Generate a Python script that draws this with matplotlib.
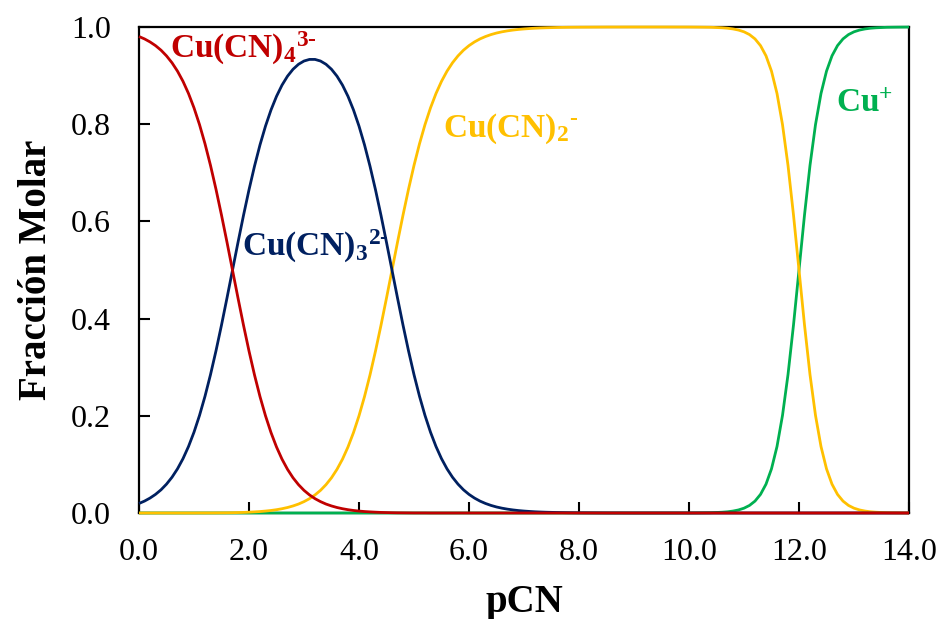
import matplotlib
matplotlib.use("Agg")
import matplotlib.pyplot as plt
from matplotlib.ticker import FormatStrFormatter

plt.rcParams["font.family"] = ["Liberation Serif", "DejaVu Serif"]
plt.rcParams["mathtext.fontset"] = "custom"
plt.rcParams["mathtext.rm"] = "Liberation Serif:bold"
plt.rcParams["mathtext.bf"] = "Liberation Serif:bold"
plt.rcParams["mathtext.it"] = "Liberation Serif:bold"

# pCN grid (denser where the curves bend)
pcn = [0.0, 0.1, 0.2, 0.3, 0.4, 0.5, 0.6, 0.7, 0.8, 0.9,
       1.0, 1.1, 1.2, 1.3, 1.4, 1.5, 1.6, 1.7, 1.8, 1.9,
       2.0, 2.1, 2.2, 2.3, 2.4, 2.5, 2.6, 2.7, 2.8, 2.9,
       3.0, 3.1, 3.2, 3.3, 3.4, 3.5, 3.6, 3.7, 3.8, 3.9,
       4.0, 4.1, 4.2, 4.3, 4.4, 4.5, 4.6, 4.7, 4.8, 4.9,
       5.0, 5.1, 5.2, 5.3, 5.4, 5.5, 5.6, 5.7, 5.8, 5.9,
       6.0, 6.1, 6.2, 6.3, 6.4, 6.5, 6.6, 6.7, 6.8, 6.9,
       7.0, 7.1, 7.2, 7.3, 7.4, 7.5, 7.6, 7.7, 7.8, 7.9,
       8.0, 8.5, 9.0, 9.5, 10.0, 10.2, 10.4, 10.6, 10.7, 10.8, 10.9,
       11.0, 11.1, 11.2, 11.3, 11.4, 11.5, 11.6, 11.7, 11.8, 11.9,
       12.0, 12.1, 12.2, 12.3, 12.4, 12.5, 12.6, 12.7, 12.8, 12.9,
       13.0, 13.1, 13.2, 13.3, 13.4, 13.6, 13.8, 14.0]

# mole fractions of each copper(I) species
cu_cn4 = [0.9804, 0.9755, 0.9693, 0.9617, 0.9523, 0.9406, 0.9264, 0.9091, 0.8882, 0.8632,
          0.8336, 0.7992, 0.7597, 0.7152, 0.6660, 0.6129, 0.5571, 0.4997, 0.4423, 0.3864,
          0.3333, 0.2841, 0.2395, 0.2000, 0.1655, 0.1359, 0.1108, 0.0899, 0.0725, 0.0583,
          0.0466, 0.0372, 0.0295, 0.0234, 0.0184, 0.0145, 0.0113, 0.0088, 0.0068, 0.0052,
          0.0040, 0.0030, 0.0023, 0.0017, 0.0012, 0.0009, 0.0006, 0.0004, 0.0003, 0.0002,
          0.0001, 0.0001, 0.0001] + [0.0] * 66

cu_cn3 = [0.0196, 0.0245, 0.0307, 0.0383, 0.0477, 0.0594, 0.0736, 0.0909, 0.1118, 0.1368,
          0.1663, 0.2007, 0.2402, 0.2847, 0.3338, 0.3867, 0.4425, 0.4997, 0.5568, 0.6124,
          0.6650, 0.7136, 0.7575, 0.7961, 0.8293, 0.8573, 0.8804, 0.8988, 0.9130, 0.9233,
          0.9300, 0.9333, 0.9333, 0.9300, 0.9233, 0.9130, 0.8988, 0.8804, 0.8573, 0.8293,
          0.7961, 0.7575, 0.7136, 0.6650, 0.6124, 0.5568, 0.4997, 0.4425, 0.3867, 0.3338,
          0.2847, 0.2402, 0.2007, 0.1663, 0.1368, 0.1118, 0.0909, 0.0736, 0.0594, 0.0477,
          0.0383, 0.0307, 0.0245, 0.0196, 0.0156, 0.0124, 0.0099, 0.0079, 0.0063, 0.0050,
          0.0040, 0.0032, 0.0025, 0.0020, 0.0016, 0.0013, 0.0010, 0.0008, 0.0006, 0.0005,
          0.0004, 0.0001] + [0.0] * 37

cu_cn2 = [0.0, 0.0, 0.0, 0.0, 0.0, 0.0, 0.0, 0.0, 0.0, 0.0,
          0.0, 0.0001, 0.0001, 0.0001, 0.0002, 0.0003, 0.0004, 0.0006, 0.0009, 0.0012,
          0.0017, 0.0023, 0.0030, 0.0040, 0.0052, 0.0068, 0.0088, 0.0113, 0.0145, 0.0184,
          0.0234, 0.0295, 0.0372, 0.0466, 0.0583, 0.0725, 0.0899, 0.1108, 0.1359, 0.1655,
          0.2000, 0.2395, 0.2841, 0.3333, 0.3864, 0.4423, 0.4997, 0.5571, 0.6129, 0.6660,
          0.7152, 0.7597, 0.7992, 0.8336, 0.8632, 0.8882, 0.9091, 0.9264, 0.9406, 0.9523,
          0.9617, 0.9693, 0.9755, 0.9804, 0.9844, 0.9876, 0.9901, 0.9921, 0.9937, 0.9950,
          0.9960, 0.9968, 0.9975, 0.9980, 0.9984, 0.9987, 0.9990, 0.9992, 0.9994, 0.9995,
          0.9996, 0.9999, 1.0, 1.0, 0.9999, 0.9997, 0.9994, 0.9984, 0.9975, 0.9960, 0.9937,
          0.9901, 0.9844, 0.9755, 0.9617, 0.9407, 0.9091, 0.8632, 0.7992, 0.7153, 0.6131,
          0.5000, 0.3869, 0.2847, 0.2008, 0.1368, 0.0909, 0.0593, 0.0383, 0.0245, 0.0156,
          0.0099, 0.0063, 0.0040, 0.0025, 0.0016, 0.0006, 0.0003, 0.0001]

cu_free = [0.0] * 84 + [0.0001, 0.0003, 0.0006, 0.0016, 0.0025, 0.0040, 0.0063,
                        0.0099, 0.0156, 0.0245, 0.0383, 0.0593, 0.0909, 0.1368, 0.2008, 0.2847, 0.3869,
                        0.5000, 0.6131, 0.7153, 0.7992, 0.8632, 0.9091, 0.9407, 0.9617, 0.9755, 0.9844,
                        0.9901, 0.9937, 0.9960, 0.9975, 0.9984, 0.9994, 0.9997, 0.9999]

RED = "#C00000"
NAVY = "#002060"
GOLD = "#FFC000"
GREEN = "#00B050"

fig = plt.figure(figsize=(9.4, 6.19), dpi=100)
ax = fig.add_axes([139 / 940, 1 - 513 / 619, 770 / 940, 486 / 619])

lw = 2.0
common = dict(lw=lw, clip_on=False, solid_joinstyle="round", solid_capstyle="butt")
ax.plot(pcn, cu_free, color=GREEN, zorder=3, **common)
ax.plot(pcn, cu_cn2, color=GOLD, zorder=4, **common)
ax.plot(pcn, cu_cn3, color=NAVY, zorder=5, **common)
ax.plot(pcn, cu_cn4, color=RED, zorder=6, **common)

ax.set_xlim(0, 14)
ax.set_ylim(0, 1)
ax.set_xticks([0, 2, 4, 6, 8, 10, 12, 14])
ax.set_yticks([0, 0.2, 0.4, 0.6, 0.8, 1.0])
ax.xaxis.set_major_formatter(FormatStrFormatter("%.1f"))
ax.yaxis.set_major_formatter(FormatStrFormatter("%.1f"))
ax.tick_params(axis="both", direction="in", length=8, width=1.5, labelsize=23)
ax.tick_params(axis="x", pad=18)
ax.tick_params(axis="y", pad=20)
for s in ax.spines.values():
    s.set_linewidth(1.6)
    s.set_zorder(2)

ax.set_xlabel("pCN", fontsize=28, fontweight="bold", labelpad=12)
ax.set_ylabel("Fracción Molar", fontsize=28, fontweight="bold", labelpad=12)

lab = dict(fontsize=24, ha="left", va="baseline", zorder=8)
ax.text(0.56, 0.936, r"$\mathrm{Cu(CN)_4{}^{3\text{-}}}$", color=RED, **lab)
ax.text(1.87, 0.530, r"$\mathrm{Cu(CN)_3{}^{2\text{-}}}$", color=NAVY, **lab)
ax.text(5.53, 0.774, r"$\mathrm{Cu(CN)_2{}^{\text{-}}}$", color=GOLD, **lab)
ax.text(12.67, 0.825, r"$\mathrm{Cu^{+}}$", color=GREEN, **lab)

fig.savefig("out.png", dpi=100)
